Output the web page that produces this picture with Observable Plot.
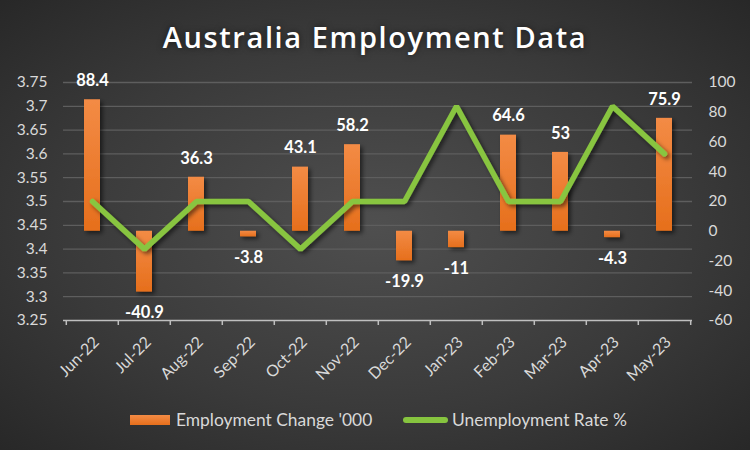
<!DOCTYPE html>
<html>
<head>
<meta charset="utf-8">
<script src="https://cdn.jsdelivr.net/npm/d3@7"></script>
<script src="https://cdn.jsdelivr.net/npm/@observablehq/plot@0.6"></script>
<style>
  html, body { margin: 0; padding: 0; }
  #wrap {
    width: 750px; height: 450px; overflow: hidden; position: relative;
    background: radial-gradient(ellipse 75% 75% at 50% 50%, #4f4f4f 0%, #3a3a3a 55%, #252525 100%);
    font-family: Lato, "Open Sans", sans-serif;
  }
  #title {
    height: 60px; line-height: 73px; text-align: center; color: #ffffff; white-space: nowrap;
    font-family: "Open Sans", Lato, sans-serif; font-weight: 600; font-size: 29px; letter-spacing: 1.6px;
    text-shadow: 0 0 6px rgba(0,0,0,0.55);
  }
  #chart svg { display: block; }
  #legend { position: relative; height: 45px; color: #d9d9d9; font-size: 17.4px; }
  #legend .sw1 { position: absolute; left: 130px; top: 10px; width: 40px; height: 10px;
    background: linear-gradient(#f38b45, #e66f1c); }
  #legend .t1 { position: absolute; left: 176px; top: 4px; }
  #legend .sw2 { position: absolute; left: 403px; top: 12px; width: 45px; height: 6px; border-radius: 3px; background: #86c43f; }
  #legend .t2 { position: absolute; left: 452px; top: 4px; }
</style>
</head>
<body>
<div id="wrap">
  <div id="title">Australia Employment Data</div>
  <div id="chart"></div>
  <div id="legend">
    <div class="sw1"></div><div class="t1">Employment Change '000</div>
    <div class="sw2"></div><div class="t2">Unemployment Rate %</div>
  </div>
</div>
<script>
const months = ["Jun-22","Jul-22","Aug-22","Sep-22","Oct-22","Nov-22","Dec-22","Jan-23","Feb-23","Mar-23","Apr-23","May-23"];
const employmentChange = [88.4, -40.9, 36.3, -3.8, 43.1, 58.2, -19.9, -11, 64.6, 53, -4.3, 75.9];
const unemploymentRate = [3.5, 3.4, 3.5, 3.5, 3.4, 3.5, 3.5, 3.7, 3.5, 3.5, 3.7, 3.6];
const leftTicks = [3.25, 3.3, 3.35, 3.4, 3.45, 3.5, 3.55, 3.6, 3.65, 3.7, 3.75];
const rightTicks = [-60, -40, -20, 0, 20, 40, 60, 80, 100];

const leftDomain = [leftTicks[0], leftTicks[leftTicks.length - 1]];
const rightDomain = [rightTicks[0], rightTicks[rightTicks.length - 1]];
const toLeft = d3.scaleLinear().domain(rightDomain).range(leftDomain);

const data = months.map((m, i) => ({month: m, change: employmentChange[i], rate: unemploymentRate[i]}));
const pos = data.filter(d => d.change >= 0);
const neg = data.filter(d => d.change < 0);
const fmt = v => String(+v.toFixed(2));

const W = 750, H = 345, mL = 63, mR = 58, mT = 22, mB = 85;
const step = (W - mL - mR) / months.length;
const pxToY = (leftDomain[1] - leftDomain[0]) / (H - mT - mB);

const svg = Plot.plot({
  width: W, height: H,
  marginLeft: mL, marginRight: mR, marginTop: mT, marginBottom: mB,
  style: {background: "transparent", color: "#d9d9d9", fontFamily: "Lato, 'Open Sans', sans-serif", fontSize: "15px", overflow: "visible"},
  x: {type: "band", domain: months, paddingInner: 0.7, paddingOuter: 0.35, label: null},
  y: {domain: leftDomain, label: null},
  marks: [
    Plot.ruleY(leftTicks.slice(1), {stroke: "#5e5e5e", strokeWidth: 1.3}),
    Plot.barY(data, {x: "month", y1: () => toLeft(0), y2: d => toLeft(d.change), fill: "url(#barGrad)"}),
    Plot.line(data, {x: "month", y: "rate", stroke: "#88c540", strokeWidth: 5.5, strokeLinejoin: "miter", strokeLinecap: "round"}),
    Plot.text(pos, {x: "month", y: d => toLeft(d.change), text: d => fmt(d.change), dy: -19, fill: "#ffffff", fontWeight: "bold", fontSize: 16.5}),
    Plot.text(neg, {x: "month", y: d => toLeft(d.change), text: d => fmt(d.change), dy: 21, fill: "#ffffff", fontWeight: "bold", fontSize: 16.5}),
    Plot.ruleY([leftDomain[0]], {stroke: "#bfbfbf", strokeWidth: 1.5}),
    Plot.ruleX(months, {x: d => d, y1: leftDomain[0], y2: leftDomain[0] - 5 * pxToY, dx: -step / 2, stroke: "#bfbfbf", strokeWidth: 1.5}),
    Plot.ruleX([months[months.length - 1]], {x: d => d, y1: leftDomain[0], y2: leftDomain[0] - 5 * pxToY, dx: step / 2, stroke: "#bfbfbf", strokeWidth: 1.5}),
    Plot.axisY({anchor: "left", ticks: leftTicks, tickSize: 0, tickPadding: 16, tickFormat: fmt, label: null, fill: "#d9d9d9", fontSize: 15.5}),
    Plot.axisY({anchor: "right", ticks: rightTicks.map(toLeft), tickSize: 0, tickPadding: 16, tickFormat: d => String(Math.round(toLeft.invert(d))), label: null, fill: "#d9d9d9", fontSize: 15.5}),
    Plot.axisX({tickRotate: -45, tickSize: 0, tickPadding: 19, dx: 4, label: null, fill: "#d9d9d9", fontSize: 16})
  ]
});

const s = d3.select(svg);
const defs = s.insert("defs", ":first-child");
const g = defs.append("linearGradient").attr("id", "barGrad").attr("x1", 0).attr("y1", 0).attr("x2", 0).attr("y2", 1);
g.append("stop").attr("offset", "0%").attr("stop-color", "#f38b45");
g.append("stop").attr("offset", "100%").attr("stop-color", "#e66f1c");
const f = defs.append("filter").attr("id", "shadow").attr("x", "-50%").attr("y", "-50%").attr("width", "200%").attr("height", "200%");
f.append("feDropShadow").attr("dx", 2.5).attr("dy", 2.5).attr("stdDeviation", 2).attr("flood-color", "#000").attr("flood-opacity", 0.55);
s.selectAll('g[aria-label="bar"], g[aria-label="line"]').attr("filter", "url(#shadow)");

document.getElementById("chart").appendChild(svg);
</script>
</body>
</html>
